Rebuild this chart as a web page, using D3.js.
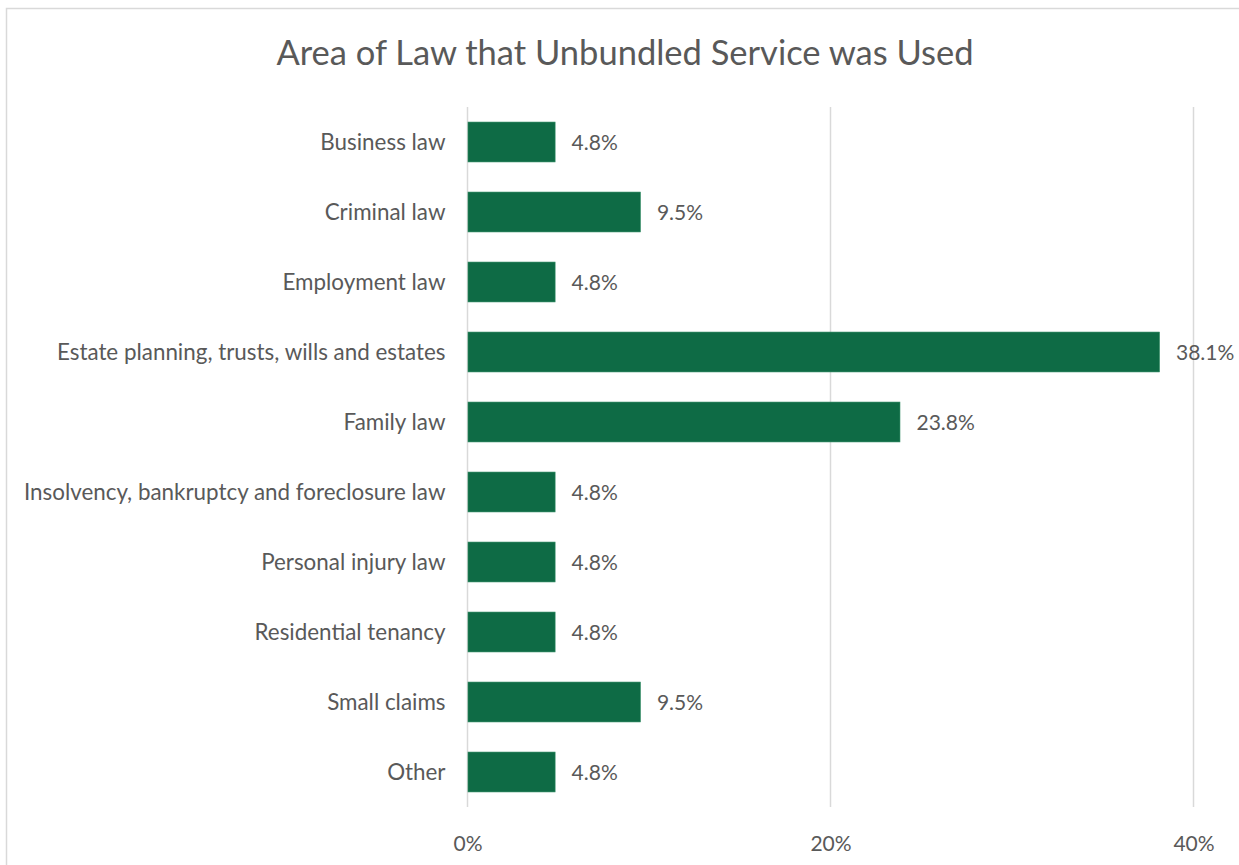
<!DOCTYPE html>
<html>
<head>
<meta charset="utf-8">
<script src="https://cdn.jsdelivr.net/npm/d3@7"></script>
<style>
  body { margin: 0; background: #fff; }
  svg { display: block; font-family: Lato, "Open Sans", sans-serif; }
</style>
</head>
<body>
<div id="chart"></div>
<script>
const categories = [
    "Business law",
    "Criminal law",
    "Employment law",
    "Estate planning, trusts, wills and estates",
    "Family law",
    "Insolvency, bankruptcy and foreclosure law",
    "Personal injury law",
    "Residential tenancy",
    "Small claims",
    "Other"
];
const values = [4.8, 9.5, 4.8, 38.1, 23.8, 4.8, 4.8, 4.8, 9.5, 4.8];
const tickValues = [0, 20, 40];
const title = "Area of Law that Unbundled Service was Used";

const width = 1239;
const height = 865;
const plot = {left: 467.5, right: 1193.5, top: 107, bottom: 807};
const textColor = "#595959";
const barColor = "#0e6b45";

const svg = d3.select("#chart")
    .append("svg")
    .attr("width", width)
    .attr("height", height);

// chart border
svg.append("rect")
    .attr("x", 6.5)
    .attr("y", 8.5)
    .attr("width", width + 10)
    .attr("height", height + 10)
    .attr("fill", "none")
    .attr("stroke", "#d9d9d9")
    .attr("stroke-width", 1.5);

svg.append("text")
    .attr("x", 625)
    .attr("y", 65)
    .attr("text-anchor", "middle")
    .attr("fill", textColor)
    .attr("font-size", 34.5)
    .text(title);

const x = d3.scaleLinear()
    .domain([0, 40])
    .range([plot.left, plot.right]);
const y = d3.scaleBand()
    .domain(categories)
    .range([plot.top, plot.bottom])
    .paddingInner(0.43)
    .paddingOuter(0.215);

// gridlines
svg.append("g")
    .selectAll("line")
    .data(tickValues)
    .join("line")
    .attr("x1", (d) => x(d))
    .attr("x2", (d) => x(d))
    .attr("y1", plot.top)
    .attr("y2", plot.bottom)
    .attr("stroke", "#d9d9d9")
    .attr("stroke-width", 1.5);

// x axis labels
const xAxis = svg.append("g")
    .attr("transform", "translate(0," + (plot.bottom + 26) + ")")
    .call(d3.axisBottom(x).tickValues(tickValues).tickFormat((d) => d + "%").tickSize(0));
xAxis.select(".domain").remove();
xAxis.selectAll("text")
    .attr("fill", textColor)
    .attr("font-size", 21)
    .attr("font-family", "Lato, 'Open Sans', sans-serif");

// y axis labels
const yAxis = svg.append("g")
    .attr("transform", "translate(" + (plot.left - 19) + ",1)")
    .call(d3.axisLeft(y).tickSize(0));
yAxis.select(".domain").remove();
yAxis.selectAll("text")
    .attr("fill", textColor)
    .attr("font-size", 22.4)
    .attr("font-family", "Lato, 'Open Sans', sans-serif");

// bars
svg.append("g")
    .selectAll("rect")
    .data(values)
    .join("rect")
    .attr("x", x(0) + 0.5)
    .attr("y", (d, i) => y(categories[i]))
    .attr("width", (d) => x(d) - x(0))
    .attr("height", y.bandwidth())
    .attr("fill", barColor)
    .attr("stroke", "#2f8a62")
    .attr("stroke-width", 0.6);

// value labels
svg.append("g")
    .selectAll("text")
    .data(values)
    .join("text")
    .attr("x", (d) => x(d) + 17)
    .attr("y", (d, i) => y(categories[i]) + y.bandwidth() / 2 + 1)
    .attr("dy", "0.35em")
    .attr("fill", textColor)
    .attr("font-size", 21)
    .text((d) => d.toFixed(1) + "%");
</script>
</body>
</html>
